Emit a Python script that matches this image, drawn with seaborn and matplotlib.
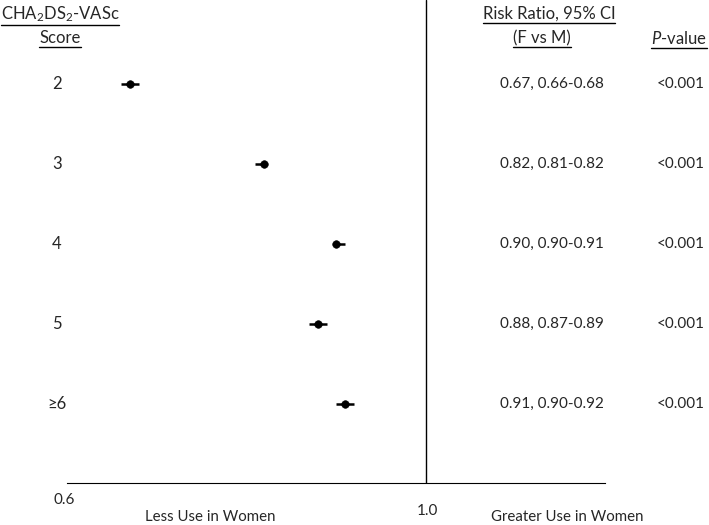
import matplotlib
matplotlib.use("Agg")
import matplotlib.pyplot as plt
from matplotlib.lines import Line2D
import seaborn as sns
import pandas as pd

# data
scores = ["2", "3", "4", "5", "\u22656"]
rr = [0.67, 0.82, 0.90, 0.88, 0.91]
ci_low = [0.66, 0.81, 0.90, 0.87, 0.90]
ci_high = [0.68, 0.82, 0.91, 0.89, 0.92]
rr_text = ["0.67, 0.66-0.68", "0.82, 0.81-0.82", "0.90, 0.90-0.91",
           "0.88, 0.87-0.89", "0.91, 0.90-0.92"]
p_text = ["<0.001"] * 5
xticks = [0.6, 0.7, 0.8, 0.9, 1.0, 1.1, 1.2]

df = pd.DataFrame({"score": scores, "rr": rr, "lo": ci_low, "hi": ci_high,
                   "row": range(len(scores))})

sns.set_style("white")
plt.rcParams["font.family"] = ["Lato", "DejaVu Sans"]
plt.rcParams["mathtext.fontset"] = "custom"
plt.rcParams["mathtext.rm"] = "Lato"
plt.rcParams["mathtext.it"] = "Lato:italic"

W, H = 709, 525
fig = plt.figure(figsize=(W / 100, H / 100), dpi=100)
ax = fig.add_axes([67 / W, 1 - 483 / H, 538 / W, 483 / H])

# CI lines then the points
ax.hlines(df["row"], df["lo"], df["hi"], color="black", lw=1.8)
sns.scatterplot(data=df, x="rr", y="row", color="black", s=30,
                edgecolor="black", ax=ax, zorder=3)
ax.axvline(1.0, color="black", lw=1.0)

ax.set_xlim(0.6, 1.2)
ax.set_ylim((483 - 84) / 80, -84 / 80)
ax.set_xticks(xticks)
ax.set_xticklabels([])
ax.set_yticks([])
ax.tick_params(axis="x", direction="inout", length=7, width=1, color="black")
for s in ["top", "left", "right"]:
    ax.spines[s].set_visible(False)
ax.spines["bottom"].set_color("black")
ax.set_xlabel("")
ax.set_ylabel("")

def px(x, y):
    return x / W, 1 - y / H

for i in range(len(scores)):
    yy = 84 + 80 * i
    fig.text(*px(57, yy), scores[i], ha="center", va="center", fontsize=12)
    fig.text(*px(552, yy), rr_text[i], ha="center", va="center", fontsize=11)
    fig.text(*px(681, yy), p_text[i], ha="center", va="center", fontsize=11)

headers = [
    fig.text(*px(60, 14), r"CHA$_2$DS$_2$-VASc", ha="center", va="center", fontsize=12),
    fig.text(*px(60, 38), "Score", ha="center", va="center", fontsize=12),
    fig.text(*px(549, 14), "Risk Ratio, 95% CI", ha="center", va="center", fontsize=12),
    fig.text(*px(542, 38), "(F vs M)", ha="center", va="center", fontsize=12),
    fig.text(*px(679, 38), r"$\it{P}$-value", ha="center", va="center", fontsize=12),
]

fig.text(*px(64, 500), "0.6", ha="center", va="center", fontsize=11)
fig.text(*px(427, 511), "1.0", ha="center", va="center", fontsize=11)
fig.text(*px(210, 517), "Less Use in Women", ha="center", va="center", fontsize=10.8)
fig.text(*px(567, 517), "Greater Use in Women", ha="center", va="center", fontsize=10.8)

# underline the header texts
fig.canvas.draw()
r = fig.canvas.get_renderer()
for t in headers:
    bb = t.get_window_extent(renderer=r)
    yline = bb.y0 - 1
    fig.add_artist(Line2D([bb.x0 / W, bb.x1 / W], [yline / H, yline / H],
                          color="black", lw=1.0))

fig.savefig("out.png", dpi=100)
